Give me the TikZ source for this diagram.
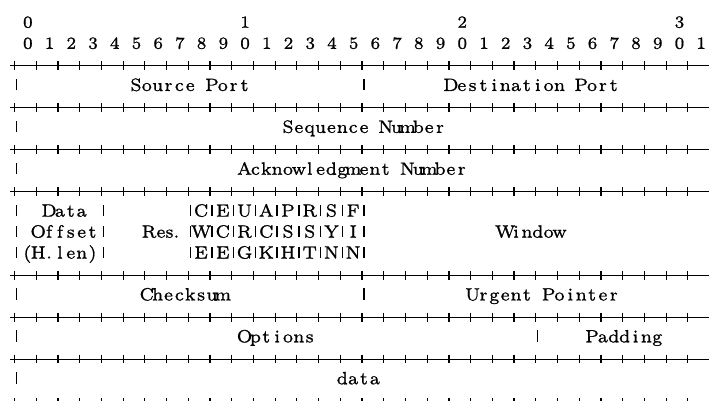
\documentclass[tikz,border=0pt]{standalone}
\usepackage{fontspec}
\setmainfont{lmroman7-regular.otf}[FakeBold=1.0]

% Each character of the argument sits in its own fixed-width cell,
% like text on a character grid.
\ExplSyntaxOn
\dim_new:N \g_cellw_dim
\dim_gset:Nn \g_cellw_dim {10.86pt}
\cs_new_protected:Npn \gridchars #1
  { \str_map_inline:nn {#1} { \makebox[\g_cellw_dim]{##1} } }
\ExplSyntaxOff

% grid helpers: left edge of text cell, baseline of a text row, y of a rule row
\newcommand\cellx[1]{10.86*(#1)+11.07}
\newcommand\barx[1]{10.86*(#1)+16.5}
\newcommand\rowy[1]{-(65.7+20.95*((#1)-2))}
\newcommand\rowbase[1]{-(65.7+20.95*((#1)-2)+4.3)}

\tikzset{
  rule/.style={line width=1pt, black},
  plustick/.style={line width=1.2pt, black},
  fieldsep/.style={line width=1.3pt, black},
  lbl/.style={inner sep=0pt, outer sep=0pt, anchor=base west,
              font=\fontsize{17.8}{20}\selectfont},
  plainlbl/.style={inner sep=0pt, outer sep=0pt, anchor=base,
              font=\fontsize{17.8}{20}\selectfont},
  bitnum/.style={inner sep=0pt, outer sep=0pt, anchor=base,
              font=\fontsize{17}{19}\selectfont},
}

\newcommand\fieldbar[2]{\draw[fieldsep] ({\barx{#1}},{\rowbase{#2}+0.5}) -- ++(0,11.5);}
\newcommand\gridlabel[4]{\node[lbl] (#1) at ({\cellx{#2}},{\rowbase{#3}}) {\gridchars{#4}};}

\begin{document}
\begin{tikzpicture}[x=1pt,y=1pt]
\useasboundingbox (0,0) rectangle (709,-400);

% bit numbers: tens and units
\foreach \t/\b in {0/0,1/10,2/20,3/30}{
  \node[bitnum] (tens\t) at ({14.5+10.86*(2*\b+1)+2.5},-27.7) {\t};
}
\foreach \i in {0,...,31}{
  \pgfmathtruncatemacro\d{mod(\i,10)}
  \node[bitnum] (unit\i) at ({14.5+10.86*(2*\i+1)+2.5},-48.8) {\d};
}

% +-+-+ rules between the header words (the last one runs below the page edge)
\foreach \r/\dy in {2/0,4/0,6/0,8/0,12/0,14/0,16/0,18/1.5}{
  \draw[rule] (10,{\rowy{\r}-\dy}) -- (709,{\rowy{\r}-\dy});
  \foreach \k in {0,...,31}{
    \draw[plustick] ({14.5+21.72*\k},{\rowy{\r}-\dy+4.4}) -- ++(0,-8.8);
  }
}

% left-edge field separators
\foreach \r in {3,5,7,9,10,11,13,15,17}{\fieldbar{0}{\r}}

% row 1: ports
\gridlabel{srcport}{11}{3}{Source Port}
\fieldbar{32}{3}
\gridlabel{dstport}{40}{3}{Destination Port}

% rows 2 and 3: sequence and acknowledgment numbers
\gridlabel{seqnum}{25}{5}{Sequence Number}
\gridlabel{acknum}{21}{7}{Acknowledgment Number}

% row 4: data offset, reserved bits, flags, window
\gridlabel{doff1}{3}{9}{Data}
\gridlabel{doff2}{2}{10}{Offset}
\gridlabel{doff3}{1}{11}{(H.len)}
\foreach \r in {9,10,11}{\fieldbar{8}{\r}}
\node[plainlbl] (res) at (160.5,{\rowbase{10}}) {Res.};
\foreach \r in {9,10,11}{
  \foreach \c in {16,18,...,32}{\fieldbar{\c}{\r}}
}
\gridlabel{flags1}{17}{9}{C E U A P R S F}
\gridlabel{flags2}{17}{10}{W C R C S S Y I}
\gridlabel{flags3}{17}{11}{E E G K H T N N}
\gridlabel{window}{45}{10}{Window}

% row 5: checksum, urgent pointer
\gridlabel{cksum}{12}{13}{Checksum}
\fieldbar{32}{13}
\gridlabel{urgptr}{42}{13}{Urgent Pointer}

% row 6: options and padding
\gridlabel{opts}{21}{15}{Options}
\fieldbar{48}{15}
\gridlabel{padding}{53}{15}{Padding}

% payload
\gridlabel{payload}{30}{17}{data}
\end{tikzpicture}
\end{document}
